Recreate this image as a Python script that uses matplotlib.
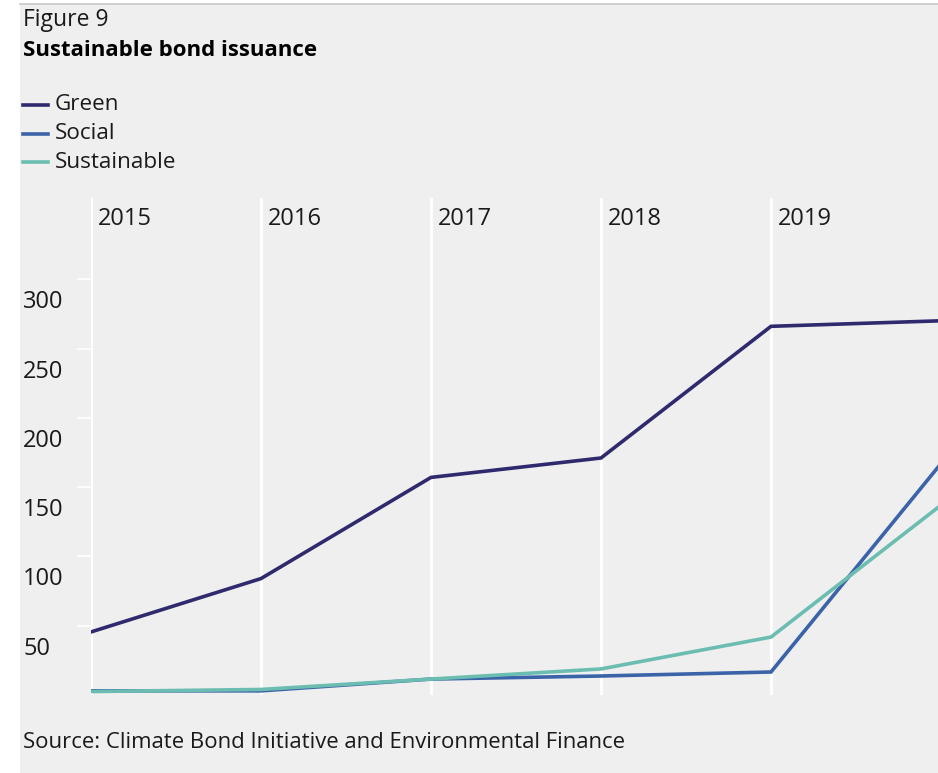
import matplotlib
matplotlib.use("Agg")
import matplotlib.pyplot as plt
from matplotlib.patches import Rectangle
from matplotlib.lines import Line2D
from matplotlib.transforms import blended_transform_factory, ScaledTranslation

plt.rcParams['font.family'] = ['Open Sans', 'DejaVu Sans']

years = [2015, 2016, 2017, 2018, 2019, 2020]
green = [45.5, 84, 157, 171, 266, 270]
social = [3, 3, 11.5, 13.7, 16.6, 167]
sustainable = [2.5, 4, 11.5, 18.8, 41.8, 137]
series_names = ["Green", "Social", "Sustainable"]
colors = ["#2f2a6e", "#3b63a8", "#6cbdb1"]
yticks = [50, 100, 150, 200, 250, 300]
year_labels = ["2015", "2016", "2017", "2018", "2019"]

W, H = 938, 773
fig = plt.figure(figsize=(W / 100, H / 100), dpi=100)
fig.patch.set_facecolor("white")
bg = "#efefef"
fig.patches.append(Rectangle((20 / W, 0), 1, 1 - 4 / H, transform=fig.transFigure,
                             facecolor=bg, edgecolor="none", zorder=-10))
fig.lines.append(Line2D([20 / W, 1], [1 - 3.5 / H, 1 - 3.5 / H], transform=fig.transFigure,
                        color="#c8c8c8", lw=1.2, zorder=-9))

def fx(px):
    return px / W

def fy(py):
    return 1 - py / H

ax_left, ax_top, ax_bottom = 91, 198, 695
ax = fig.add_axes([fx(ax_left), fy(ax_bottom), fx(W - ax_left), (ax_bottom - ax_top) / H])
ax.set_zorder(1)
ax.set_facecolor("none")
px_per_year = 170
ax.set_xlim(2015, 2015 + (W - ax_left) / px_per_year)
ax.set_ylim(0, (ax_bottom - ax_top) / 1.386)
for s in ax.spines.values():
    s.set_visible(False)
ax.set_xticks([])
ax.set_yticks(yticks)
ax.set_yticklabels([])
ax.tick_params(axis="y", direction="out", length=10, width=1.2, color="white", pad=0)

for y in years[:-1]:
    ax.axvline(y, color="white", lw=2, zorder=1)

for vals, c in zip([green, social, sustainable], colors):
    ax.plot(years, vals, color=c, lw=2.6, solid_joinstyle="miter", zorder=3, clip_on=True)

# y labels below the tick marks
tr = blended_transform_factory(fig.transFigure, ax.transData) + \
    ScaledTranslation(0, -23 / 100, fig.dpi_scale_trans)
for v in yticks:
    ax.text(fx(23), v, str(v), transform=tr, ha="left", va="center", fontsize=17, color="#1a1a1a")

# year labels at the top
trx = blended_transform_factory(ax.transData, fig.transFigure) + \
    ScaledTranslation(7 / 100, 0, fig.dpi_scale_trans)
for y, lab in zip(years, year_labels):
    ax.text(y, fy(219), lab, transform=trx, ha="left", va="center", fontsize=17, color="#1a1a1a")

fig.text(fx(23), fy(20), "Figure 9", ha="left", va="center", fontsize=16.5, color="#1a1a1a")
fig.text(fx(23), fy(51), "Sustainable bond issuance", ha="left", va="center", fontsize=16,
         fontweight="bold", color="#000000")

for i, (name, c) in enumerate(zip(series_names, colors)):
    yy = fy(105 + 28.5 * i)
    fig.lines.append(Line2D([fx(23), fx(48)], [yy, yy], transform=fig.transFigure, color=c, lw=2.6))
    fig.text(fx(55), yy, name, ha="left", va="center", fontsize=16.2, color="#1a1a1a")

fig.text(fx(23), fy(743), "Source: Climate Bond Initiative and Environmental Finance",
         ha="left", va="center", fontsize=15.9, color="#1a1a1a")

fig.savefig("out.png", dpi=100, facecolor=fig.get_facecolor())
